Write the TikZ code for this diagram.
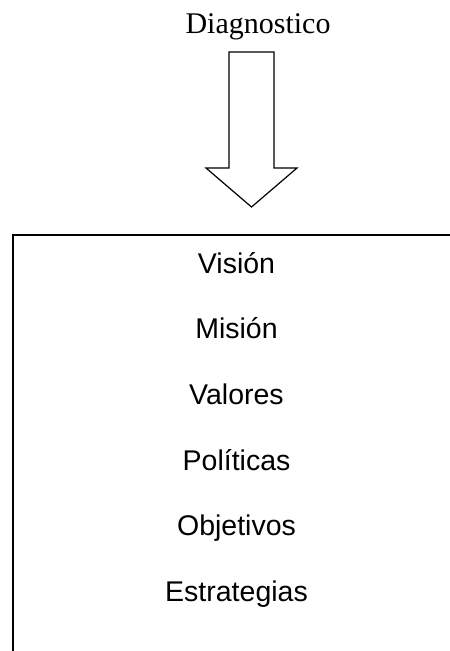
\documentclass[tikz,border=0pt]{standalone}
\usepackage{fontspec}
\setmainfont{Liberation Serif}
\setsansfont{Liberation Sans}
\usepackage{tikz}
\usetikzlibrary{positioning}

\tikzset{
  titulo/.style={anchor=base, inner sep=0pt, font=\fontsize{30}{36}\selectfont},
  item/.style={anchor=base, inner sep=0pt, font=\sffamily\fontsize{28.5}{34}\selectfont},
  flecha/.style={draw, line width=1.2pt, line join=miter},
  marco/.style={draw, line width=1.5pt}
}

\begin{document}
\begin{tikzpicture}[x=1pt, y=-1pt]
    \useasboundingbox (0,0) rectangle (450,651);
    \clip (0,0) rectangle (450,651);

    \node[titulo] at (258, 33)   (diag) {Diagnostico};

    % flecha hueca hacia abajo
    \coordinate (t) at (251.5, 207);
    \draw[flecha] (229,52) -- (274,52) -- (274,168) -- (297,168) -- (t)
                  -- (206,168) -- (229,168) -- cycle;

    % marco (recortado por la pagina)
    \draw[marco] (13,235) rectangle (470,680);

    \node[item] at (236.5, 273)   (vis) {Visión};
    \node[item] at (236.5, 338.7) (mis) {Misión};
    \node[item] at (236.5, 404.4) (val) {Valores};
    \node[item] at (236.5, 470.1) (pol) {Políticas};
    \node[item] at (236.5, 535.8) (obj) {Objetivos};
    \node[item] at (236.5, 601.5) (est) {Estrategias};
\end{tikzpicture}
\end{document}
